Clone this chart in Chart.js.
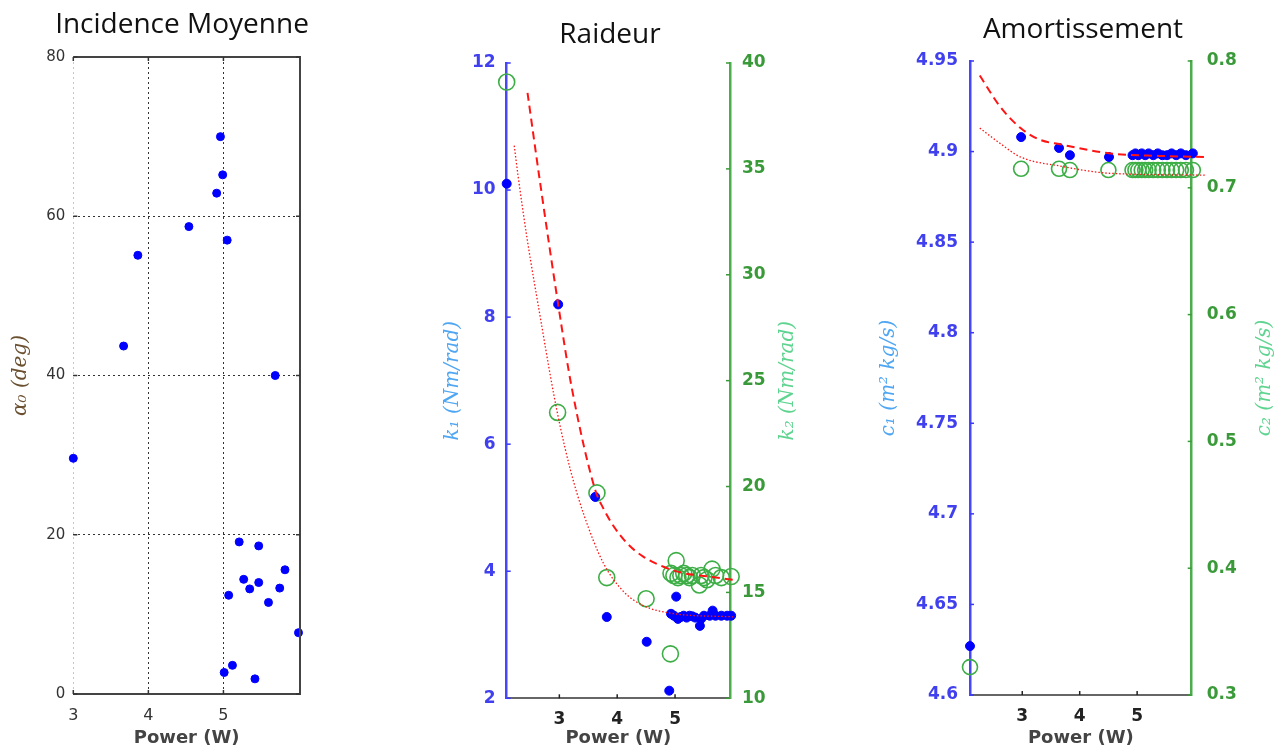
<!DOCTYPE html>
<html>
<head>
<meta charset="utf-8">
<script src="https://cdn.jsdelivr.net/npm/chart.js@4.4.1/dist/chart.umd.min.js"></script>
<style>
  html, body { margin: 0; padding: 0; background: #fff; overflow: hidden; }
  canvas { position: absolute; top: 0; }
</style>
</head>
<body>
<canvas id="incidence" width="400" height="749" style="left:0px"></canvas>
<canvas id="raideur" width="430" height="749" style="left:400px"></canvas>
<canvas id="amort" width="451" height="749" style="left:830px"></canvas>
<script>
// --- Incidence moyenne ---
const incPower = [3.0, 3.67, 3.86, 4.54, 4.91, 4.96, 4.99, 5.05, 5.69, 5.21, 5.47, 5.82, 5.27, 5.47, 5.35, 5.75, 5.07, 5.60, 6.0, 5.01, 5.12, 5.42];
const incAlpha = [29.6, 43.7, 55.1, 58.7, 62.9, 70.0, 65.2, 57.0, 40.0, 19.1, 18.6, 15.6, 14.4, 14.0, 13.2, 13.3, 12.4, 11.5, 7.7, 2.7, 3.6, 1.9];
const incPowerTicks = [3, 4, 5];
const incAlphaTicks = [0, 20, 40, 60, 80];

// --- Raideur ---
const k1Power = [2.09, 2.98, 3.62, 3.82, 4.51, 4.90, 5.02, 4.93, 4.98, 5.05, 5.1, 5.15, 5.2, 5.25, 5.3, 5.35, 5.43, 5.45, 5.5, 5.6, 5.65, 5.7, 5.8, 5.9, 5.97];
const k1Values = [10.1, 8.2, 5.17, 3.28, 2.89, 2.12, 3.6, 3.33, 3.3, 3.25, 3.28, 3.3, 3.27, 3.3, 3.29, 3.27, 3.14, 3.25, 3.3, 3.3, 3.38, 3.3, 3.3, 3.3, 3.3];
const k2Power = [2.09, 2.97, 3.65, 3.82, 4.50, 4.92, 5.02, 4.93, 4.98, 5.05, 5.1, 5.15, 5.2, 5.25, 5.3, 5.42, 5.45, 5.5, 5.55, 5.64, 5.7, 5.8, 5.97];
const k2Values = [39.1, 23.5, 19.7, 15.7, 14.7, 12.1, 16.5, 15.9, 15.8, 15.7, 15.8, 15.9, 15.8, 15.7, 15.8, 15.35, 15.8, 15.7, 15.6, 16.1, 15.8, 15.7, 15.75];
const k1FitPower = [2.45, 2.67, 2.98, 3.21, 3.62, 3.76, 3.93, 4.17, 4.45, 4.80, 5.15, 5.55, 6.04];
const k1Fit = [11.53, 10.1, 8.2, 6.91, 5.28, 4.99, 4.72, 4.44, 4.23, 4.07, 3.97, 3.92, 3.86];
const k2FitPower = [2.22, 2.29, 2.44, 2.67, 2.90, 3.01, 3.19, 3.42, 3.76, 4.11, 4.45, 4.92, 6.04];
const k2Fit = [10.7, 10.2, 9.25, 8.0, 6.8, 6.3, 5.6, 4.9, 4.13, 3.68, 3.46, 3.34, 3.28];
const rdPowerTicks = [3, 4, 5];
const k1Ticks = [2, 4, 6, 8, 10, 12];
const k2Ticks = [10, 15, 20, 25, 30, 35, 40];

// --- Amortissement ---
const c1Power = [2.09, 2.98, 3.64, 3.83, 4.51, 4.92, 4.97, 5.02, 5.08, 5.14, 5.2, 5.28, 5.36, 5.44, 5.52, 5.6, 5.68, 5.76, 5.85, 5.97];
const c1Values = [4.627, 4.908, 4.902, 4.898, 4.897, 4.898, 4.899, 4.898, 4.899, 4.898, 4.899, 4.898, 4.899, 4.898, 4.898, 4.899, 4.898, 4.899, 4.898, 4.899];
const c2Power = [2.09, 2.98, 3.64, 3.83, 4.50, 4.92, 4.97, 5.02, 5.08, 5.14, 5.2, 5.28, 5.36, 5.44, 5.52, 5.6, 5.68, 5.76, 5.85, 5.97];
const c2Values = [0.322, 0.715, 0.715, 0.714, 0.714, 0.714, 0.714, 0.714, 0.714, 0.714, 0.714, 0.714, 0.714, 0.714, 0.714, 0.714, 0.714, 0.714, 0.714, 0.714];
const c1FitPower = [2.26, 2.61, 2.97, 3.31, 3.66, 4.53, 5.39, 6.2];
const c1Fit = [4.942, 4.925, 4.913, 4.9065, 4.904, 4.899, 4.8976, 4.897];
const c2FitPower = [2.26, 2.61, 2.97, 3.66, 4.53, 6.2];
const c2Fit = [4.913, 4.9046, 4.897, 4.892, 4.888, 4.887];
const amPowerTicks = [3, 4, 5];
const c1Ticks = [4.6, 4.65, 4.7, 4.75, 4.8, 4.85, 4.9, 4.95];
const c2Ticks = [0.3, 0.4, 0.5, 0.6, 0.7, 0.8];

// helpers
const pts = (xs, ys) => xs.map((x, i) => ({ x: x, y: ys[i] }));
const fixTicks = vals => scale => { scale.ticks = vals.map(v => ({ value: v })); };
const BLUE = '#0000ff', GREEN = '#3cae45', RED = '#ff1414';
const tickFont = { family: 'DejaVu Sans', size: 17, weight: 'bold' };
const powerTitle = {
    display: true, text: 'Power (W)', color: '#444',
    font: { family: 'DejaVu Sans', size: 18, weight: 'bold', lineHeight: 1 }, padding: { top: 0, bottom: 2 }
};
const yTitleFont = { family: 'DejaVu Serif', style: 'italic', size: 20, lineHeight: 1.2 };

// frame, inward tick marks and free texts (titles, right axis labels)
const decorSpecs = {
    incidence: {
        frame: { color: '#444', width: 2 },
        marks: [
            { axis: 'y', side: 'left', color: '#333' }, { axis: 'y', side: 'right', color: '#333' },
            { axis: 'x', side: 'bottom', color: '#333' }, { axis: 'x', side: 'top', color: '#333' }
        ],
        texts: [{ text: 'Incidence Moyenne', x: 182, y: 33, font: '28px "Open Sans"', color: '#111', baseline: 'alphabetic' }]
    },
    raideur: {
        marks: [
            { axis: 'y', side: 'left', color: '#3838ff' }, { axis: 'y2', side: 'right', color: '#3a9a3a' },
            { axis: 'x', side: 'bottom', color: '#222' }
        ],
        texts: [
            { text: 'Raideur', x: 210, y: 43, font: '28px "Open Sans"', color: '#111', baseline: 'alphabetic' },
            { text: 'k₂ (Nm/rad)', x: 388, font: 'italic 20px "DejaVu Serif"', color: '#5fd490', rotate: -Math.PI / 2 }
        ]
    },
    amort: {
        marks: [
            { axis: 'y', side: 'left', color: '#3838ff' }, { axis: 'y2', side: 'right', color: '#3a9a3a' },
            { axis: 'x', side: 'bottom', color: '#222' }
        ],
        texts: [
            { text: 'Amortissement', x: 253, y: 38, font: '28px "Open Sans"', color: '#111', baseline: 'alphabetic' },
            { text: 'c₂ (m² kg/s)', x: 435, font: 'italic 20px "DejaVu Serif"', color: '#5fd490', rotate: -Math.PI / 2 }
        ]
    }
};

const decor = {
    id: 'decor',
    afterDraw(chart) {
        const spec = decorSpecs[chart.canvas.id];
        if (!spec) return;
        const ctx = chart.ctx, a = chart.chartArea;
        ctx.save();
        if (spec.frame) {
            ctx.strokeStyle = spec.frame.color;
            ctx.lineWidth = spec.frame.width;
            ctx.beginPath();
            ctx.moveTo(a.left, a.top);
            ctx.lineTo(a.right, a.top);
            ctx.lineTo(a.right, a.bottom);
            ctx.lineTo(a.left, a.bottom);
            ctx.stroke();
        }
        spec.marks.forEach(m => {
            const s = chart.scales[m.axis];
            ctx.strokeStyle = m.color;
            ctx.lineWidth = 1.5;
            s.ticks.forEach(t => {
                const p = s.getPixelForValue(t.value);
                ctx.beginPath();
                if (m.side === 'left') { ctx.moveTo(a.left, p); ctx.lineTo(a.left + 4, p); }
                if (m.side === 'right') { ctx.moveTo(a.right, p); ctx.lineTo(a.right - 4, p); }
                if (m.side === 'bottom') { ctx.moveTo(p, a.bottom); ctx.lineTo(p, a.bottom - 4); }
                if (m.side === 'top') { ctx.moveTo(p, a.top); ctx.lineTo(p, a.top + 4); }
                ctx.stroke();
            });
        });
        spec.texts.forEach(t => {
            ctx.save();
            ctx.font = t.font;
            ctx.fillStyle = t.color;
            ctx.textAlign = 'center';
            ctx.textBaseline = t.baseline || 'middle';
            ctx.translate(t.x, t.y === undefined ? (a.top + a.bottom) / 2 : t.y);
            if (t.rotate) ctx.rotate(t.rotate);
            ctx.fillText(t.text, 0, 0);
            ctx.restore();
        });
        ctx.restore();
    }
};

const baseOptions = {
    responsive: false,
    animation: false,
    plugins: { legend: { display: false }, tooltip: { enabled: false } }
};

// Panel 1
new Chart(document.getElementById('incidence'), {
    type: 'scatter',
    data: {
        datasets: [{
            data: pts(incPower, incAlpha),
            backgroundColor: BLUE, borderColor: BLUE,
            pointRadius: 4, pointHoverRadius: 4, clip: false
        }]
    },
    options: Object.assign({}, baseOptions, {
        layout: { padding: { left: 0, right: 100, top: 57, bottom: 0 } },
        scales: {
            x: {
                type: 'linear', min: 3, max: 6.02,
                afterBuildTicks: fixTicks(incPowerTicks),
                afterFit: s => { s.height = 55; },
                grid: { color: c => c.index === 0 ? '#c8c8c8' : '#333', drawTicks: false },
                border: { display: false, dash: [2, 3] },
                ticks: { padding: 12, color: '#333', maxRotation: 0, font: { family: 'DejaVu Sans', size: 16 } },
                title: powerTitle
            },
            y: {
                type: 'linear', min: 0, max: 80,
                afterBuildTicks: fixTicks(incAlphaTicks),
                afterFit: s => { s.width = 73.3; },
                grid: { color: '#333', drawTicks: false },
                border: { display: false, dash: [2, 3] },
                ticks: { padding: 8, color: '#333', font: { family: 'DejaVu Sans', size: 15 } },
                title: { display: true, text: 'α₀ (deg)', color: '#6a5030', font: yTitleFont, padding: { top: 9 } }
            }
        }
    }),
    plugins: [decor]
});

// Panel 2
new Chart(document.getElementById('raideur'), {
    type: 'scatter',
    data: {
        datasets: [
            {
                data: pts(k1FitPower, k1Fit), yAxisID: 'y', showLine: true,
                borderColor: RED, borderWidth: 2, borderDash: [8, 5], pointRadius: 0,
                cubicInterpolationMode: 'monotone', clip: false
            },
            {
                data: pts(k2FitPower, k2Fit), yAxisID: 'y', showLine: true,
                borderColor: RED, borderWidth: 1.3, borderDash: [1.5, 2], pointRadius: 0,
                cubicInterpolationMode: 'monotone', clip: false
            },
            {
                data: pts(k1Power, k1Values), yAxisID: 'y',
                backgroundColor: BLUE, borderColor: BLUE, pointRadius: 4.5, clip: false
            },
            {
                data: pts(k2Power, k2Values), yAxisID: 'y2',
                backgroundColor: 'rgba(0,0,0,0)', borderColor: GREEN, borderWidth: 1.6, pointRadius: 8, clip: false
            }
        ]
    },
    options: Object.assign({}, baseOptions, {
        layout: { padding: { left: 0, right: 0, top: 63, bottom: 0 } },
        scales: {
            x: {
                type: 'linear', min: 2.09, max: 5.95,
                afterBuildTicks: fixTicks(rdPowerTicks),
                afterFit: s => { s.height = 50.7; },
                grid: { display: false, drawTicks: false },
                border: { display: true, color: '#666', width: 2 },
                ticks: { padding: 11.5, color: '#222', maxRotation: 0, font: tickFont },
                title: powerTitle
            },
            y: {
                type: 'linear', position: 'left', min: 2, max: 12,
                afterBuildTicks: fixTicks(k1Ticks),
                afterFit: s => { s.width = 106.7; },
                grid: { display: false, drawTicks: false },
                border: { display: true, color: '#4646ff', width: 2.5 },
                ticks: { padding: 11, color: '#4040ee', font: tickFont },
                title: { display: true, text: 'k₁ (Nm/rad)', color: '#4fa6f2', font: yTitleFont, padding: { top: 41 } }
            },
            y2: {
                type: 'linear', position: 'right', min: 10, max: 40,
                afterBuildTicks: fixTicks(k2Ticks),
                afterFit: s => { s.width = 100; },
                grid: { display: false, drawTicks: false },
                border: { display: true, color: '#4cad4c', width: 2.5 },
                ticks: { padding: 12, color: '#3a9a3a', font: tickFont }
            }
        }
    }),
    plugins: [decor]
});

// Panel 3
new Chart(document.getElementById('amort'), {
    type: 'scatter',
    data: {
        datasets: [
            {
                data: pts(c1FitPower, c1Fit), yAxisID: 'y', showLine: true,
                borderColor: RED, borderWidth: 2, borderDash: [8, 5], pointRadius: 0,
                cubicInterpolationMode: 'monotone', clip: false
            },
            {
                data: pts(c2FitPower, c2Fit), yAxisID: 'y', showLine: true,
                borderColor: RED, borderWidth: 1.3, borderDash: [1.5, 2], pointRadius: 0,
                cubicInterpolationMode: 'monotone', clip: false
            },
            {
                data: pts(c1Power, c1Values), yAxisID: 'y',
                backgroundColor: BLUE, borderColor: BLUE, pointRadius: 4.5, clip: false
            },
            {
                data: pts(c2Power, c2Values), yAxisID: 'y2',
                backgroundColor: 'rgba(0,0,0,0)', borderColor: GREEN, borderWidth: 1.6, pointRadius: 7.5, clip: false
            }
        ]
    },
    options: Object.assign({}, baseOptions, {
        layout: { padding: { left: 0, right: 0, top: 61, bottom: 0 } },
        scales: {
            x: {
                type: 'linear', min: 2.09, max: 5.95,
                afterBuildTicks: fixTicks(amPowerTicks),
                afterFit: s => { s.height = 54; },
                grid: { display: false, drawTicks: false },
                border: { display: true, color: '#666', width: 2 },
                ticks: { padding: 11.5, color: '#222', maxRotation: 0, font: tickFont },
                title: powerTitle
            },
            y: {
                type: 'linear', position: 'left', min: 4.6, max: 4.95,
                afterBuildTicks: fixTicks(c1Ticks),
                afterFit: s => { s.width = 140; },
                grid: { display: false, drawTicks: false },
                border: { display: true, color: '#4646ff', width: 2.5 },
                ticks: { padding: 12, color: '#4040ee', font: tickFont, callback: v => String(v) },
                title: { display: true, text: 'c₁ (m² kg/s)', color: '#4fa6f2', font: yTitleFont, padding: { top: 47 } }
            },
            y2: {
                type: 'linear', position: 'right', min: 0.3, max: 0.8,
                afterBuildTicks: fixTicks(c2Ticks),
                afterFit: s => { s.width = 89.3; },
                grid: { display: false, drawTicks: false },
                border: { display: true, color: '#4cad4c', width: 2.5 },
                ticks: { padding: 15, color: '#3a9a3a', font: tickFont, callback: v => String(v) }
            }
        }
    }),
    plugins: [decor]
});
</script>
</body>
</html>
